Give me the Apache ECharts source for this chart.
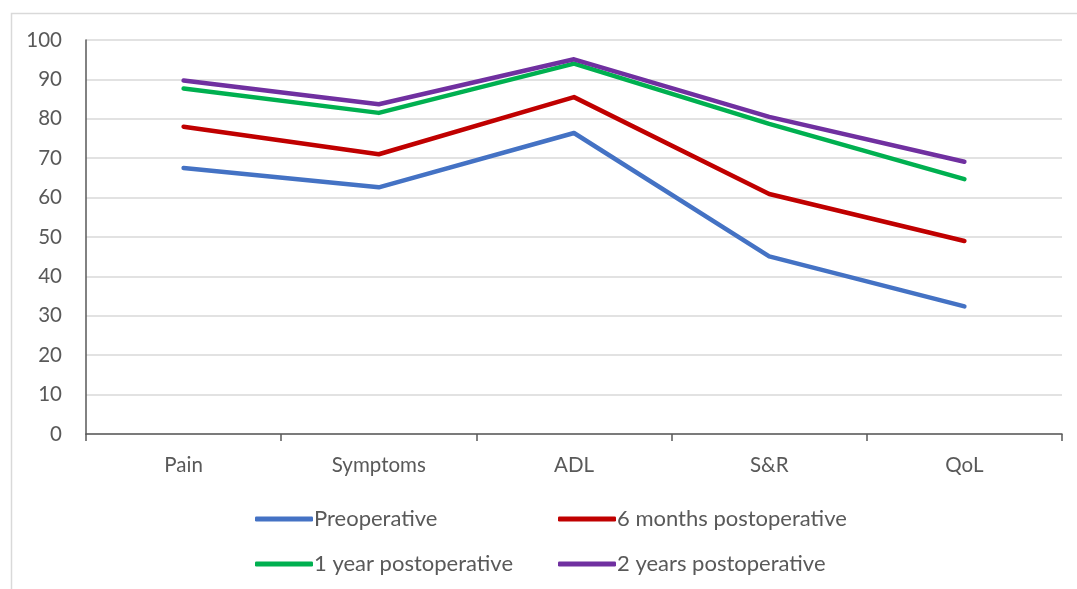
<!DOCTYPE html>
<html>
<head>
<meta charset="utf-8">
<script src="https://cdn.jsdelivr.net/npm/echarts@6/dist/echarts.min.js"></script>
<style>
html, body { margin: 0; padding: 0; background: #fff; }
#chart { width: 1077px; height: 589px; }
</style>
</head>
<body>
<div id="chart"></div>
<script>
// KOOS subscale scores over follow-up
const categories = ['Pain', 'Symptoms', 'ADL', 'S&R', 'QoL'];
const preoperative = [67.5, 62.6, 76.4, 45.1, 32.4];
const sixMonths = [78.0, 71.0, 85.5, 60.9, 49.0];
const oneYear = [87.7, 81.5, 94.0, 78.7, 64.7];
const twoYears = [89.7, 83.7, 95.1, 80.5, 69.1];
const yTicks = [0, 100, 10]; // min, max, step

const seriesDefs = [
  { name: 'Preoperative', data: preoperative, color: '#4472C4' },
  { name: '6 months postoperative', data: sixMonths, color: '#C00000' },
  { name: '1 year postoperative', data: oneYear, color: '#00B050' },
  { name: '2 years postoperative', data: twoYears, color: '#7030A0' }
];

const font = 'Lato, "Open Sans", sans-serif';
const textColor = '#595959';

const legendPos = [
  { left: 250, top: 503 },
  { left: 553, top: 503 },
  { left: 250, top: 548 },
  { left: 553, top: 548 }
];

const chart = echarts.init(document.getElementById('chart'), null, { renderer: 'canvas' });
chart.setOption({
  backgroundColor: '#ffffff',
  animation: false,
  graphic: [{
    type: 'rect',
    left: 9, top: 11,
    shape: { width: 1100, height: 600 },
    style: { fill: 'none', stroke: '#d9d9d9', lineWidth: 1.5 },
    silent: true,
    z: -1
  }],
  grid: { left: 86, right: 15, top: 40, bottom: 155, containLabel: false },
  legend: seriesDefs.map((s, i) => ({
    data: [s.name],
    left: legendPos[i].left,
    top: legendPos[i].top,
    icon: 'roundRect',
    itemWidth: 58,
    itemHeight: 5,
    itemGap: 0,
    textStyle: { fontFamily: font, fontSize: 22, color: textColor, padding: [0, 0, 0, -4] }
  })),
  xAxis: {
    type: 'category',
    data: categories,
    boundaryGap: true,
    axisLine: { lineStyle: { color: '#595959', width: 1.5 } },
    axisTick: { show: true, length: 7, lineStyle: { color: '#595959', width: 1.5 } },
    axisLabel: { fontFamily: font, fontSize: 20.5, color: textColor, margin: 21 },
    splitLine: { show: false }
  },
  yAxis: {
    type: 'value',
    min: yTicks[0], max: yTicks[1], interval: yTicks[2],
    axisLine: { show: true, lineStyle: { color: '#595959', width: 1.5 } },
    axisTick: { show: false },
    axisLabel: { fontFamily: font, fontSize: 20.5, color: textColor, margin: 24 },
    splitLine: { lineStyle: { color: '#d9d9d9', width: 1.5 } }
  },
  series: seriesDefs.map(s => ({
    name: s.name,
    type: 'line',
    data: s.data,
    symbol: 'none',
    color: s.color,
    lineStyle: { color: s.color, width: 4.5, cap: 'round', join: 'round' }
  }))
});
</script>
</body>
</html>
